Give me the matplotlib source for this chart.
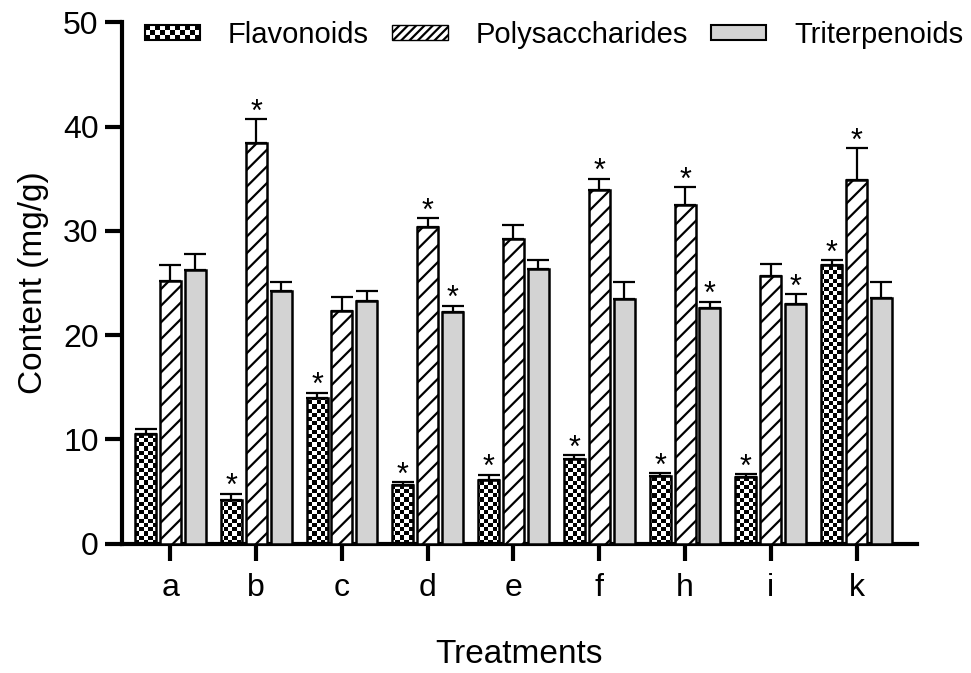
import numpy as np
import matplotlib
matplotlib.use('Agg')
import matplotlib.pyplot as plt
from matplotlib.patches import Patch, Rectangle
from matplotlib.legend_handler import HandlerBase

plt.rcParams['font.family'] = ['Liberation Sans', 'DejaVu Sans']
plt.rcParams['hatch.linewidth'] = 1.6

treatments = ['a', 'b', 'c', 'd', 'e', 'f', 'h', 'i', 'k']

flav = [10.55, 4.2, 14.0, 5.6, 6.1, 8.1, 6.5, 6.4, 26.7]
flav_err = [0.45, 0.6, 0.5, 0.3, 0.5, 0.4, 0.25, 0.25, 0.5]
poly = [25.2, 38.4, 22.3, 30.4, 29.2, 33.9, 32.5, 25.7, 34.9]
poly_err = [1.5, 2.3, 1.4, 0.8, 1.4, 1.1, 1.7, 1.1, 3.0]
trit = [26.2, 24.2, 23.3, 22.2, 26.3, 23.5, 22.6, 23.0, 23.6]
trit_err = [1.6, 0.9, 0.9, 0.6, 0.9, 1.6, 0.6, 0.9, 1.5]

# significance marks
flav_sig = [False, True, True, True, True, True, True, True, True]
poly_sig = [False, True, False, True, False, True, True, False, True]
trit_sig = [False, False, False, True, False, False, True, True, False]


class CheckerHandler(HandlerBase):
    def create_artists(self, legend, orig_handle, xdescent, ydescent,
                       width, height, fontsize, trans):
        arts = []
        rows = 3
        ch = height / rows
        cols = int(round(width / ch))
        cw = width / cols
        for i in range(rows):
            for j in range(cols):
                if (i + j) % 2 == 0:
                    arts.append(Rectangle((-xdescent + j * cw, -ydescent + i * ch), cw, ch,
                                          facecolor='black', edgecolor='none', transform=trans))
        arts.append(Rectangle((-xdescent, -ydescent), width, height, facecolor='none',
                              edgecolor='black', lw=1.5, transform=trans))
        return arts


fig, ax = plt.subplots(figsize=(9.71, 6.73), dpi=100)
fig.subplots_adjust(left=0.126, right=0.944, bottom=0.192, top=0.967)

x = np.arange(len(treatments))
w = 0.245
off = 0.29
xlim = (-0.56, 8.70)
ylim = (0, 50)

fl_bars = ax.bar(x - off, flav, w, facecolor='none', edgecolor='black', lw=1.8, zorder=3)
po_bars = ax.bar(x, poly, w, facecolor='white', edgecolor='black', hatch='//', lw=1.8, zorder=3)
tr_bars = ax.bar(x + off, trit, w, facecolor='#d3d3d3', edgecolor='black', lw=1.8, zorder=3)

# checkerboard fill for flavonoids
pos = ax.get_position()
W = pos.width * fig.get_figwidth() * fig.dpi
H = pos.height * fig.get_figheight() * fig.dpi
cell = 4.2
checker = np.add.outer(np.arange(int(H / cell)), np.arange(int(W / cell))) % 2
for b in fl_bars:
    im = ax.imshow(checker, cmap='gray', extent=(*xlim, *ylim), aspect='auto',
                   interpolation='nearest', zorder=2)
    im.set_clip_path(b)

for xs, vals, errs in [(x - off, flav, flav_err), (x, poly, poly_err), (x + off, trit, trit_err)]:
    ax.errorbar(xs, vals, yerr=[np.zeros(len(errs)), errs], fmt='none', ecolor='black',
                elinewidth=1.6, capsize=8, capthick=1.6, zorder=2.5)

for xs, vals, errs, sig in [(x - off, flav, flav_err, flav_sig), (x, poly, poly_err, poly_sig),
                            (x + off, trit, trit_err, trit_sig)]:
    for xi, v, e, s in zip(xs, vals, errs, sig):
        if s:
            ax.annotate('*', (xi, v + e), xytext=(0, -1), textcoords='offset points',
                        ha='center', va='baseline', fontsize=22)

ax.set_xlim(*xlim)
ax.set_ylim(*ylim)
ax.set_yticks([0, 10, 20, 30, 40, 50])
ax.set_xticks(x)
ax.set_xticklabels(treatments)
ax.spines['top'].set_visible(False)
ax.spines['right'].set_visible(False)
ax.spines['left'].set_linewidth(3)
ax.spines['bottom'].set_linewidth(3)
ax.tick_params(axis='both', width=3, length=12, labelsize=23, color='black')
ax.tick_params(axis='x', pad=9)
ax.tick_params(axis='y', pad=5)
ax.set_ylabel('Content (mg/g)', fontsize=24, labelpad=10)
ax.set_xlabel('Treatments', fontsize=24, labelpad=26)

handles = [Patch(facecolor='none', edgecolor='black'),
           Patch(facecolor='white', edgecolor='black', hatch='////'),
           Patch(facecolor='#d3d3d3', edgecolor='black', lw=1.5)]
fig.legend(handles, ['Flavonoids', 'Polysaccharides', 'Triterpenoids'],
           handler_map={handles[0]: CheckerHandler()},
           loc='center left', bbox_to_anchor=(0.149, 0.948), ncol=3, frameon=False,
           fontsize=21, handlelength=1.9, handleheight=0.41, handletextpad=0.95,
           columnspacing=0.8, borderpad=0, borderaxespad=0)

fig.savefig('out.png', dpi=100)
